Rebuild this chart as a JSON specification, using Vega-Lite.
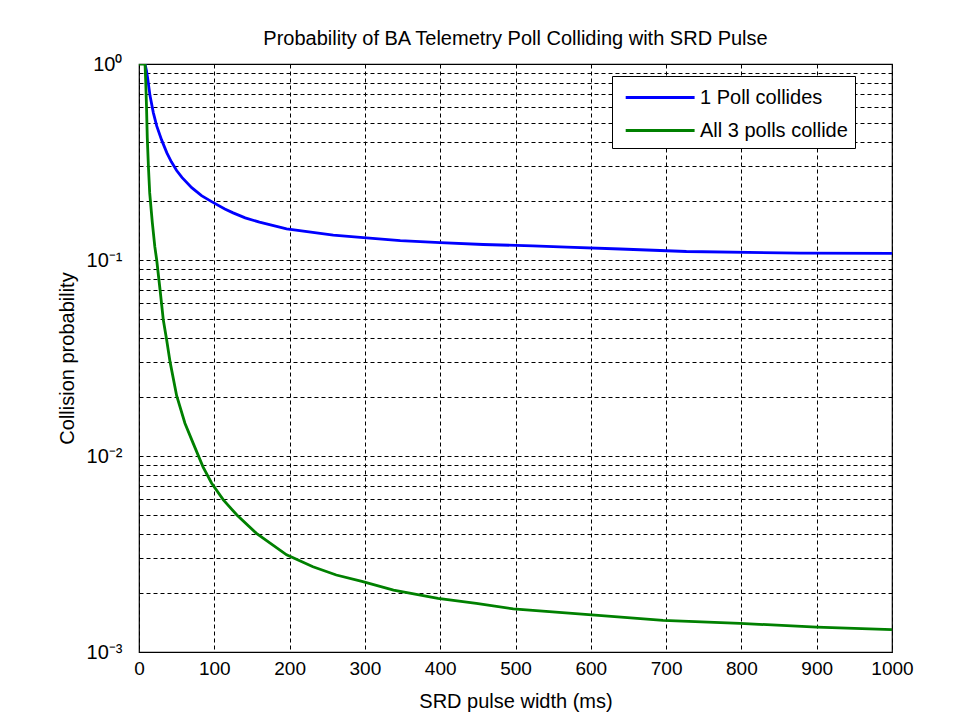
{
  "$schema": "https://vega.github.io/schema/vega-lite/v6.json",
  "width": 753,
  "height": 588,
  "autosize": "none",
  "padding": {"left": 139, "top": 64, "right": 83, "bottom": 74},
  "background": "white",
  "title": {
    "text": "Probability of BA Telemetry Poll Colliding with SRD Pulse",
    "fontSize": 20,
    "font": "Liberation Sans",
    "fontWeight": "normal",
    "color": "black",
    "offset": 5,
    "anchor": "middle"
  },
  "data": {
    "values": [
      {"series": "1 Poll collides", "w": 8, "p": 1},
      {"series": "1 Poll collides", "w": 10, "p": 0.92},
      {"series": "1 Poll collides", "w": 11.5, "p": 0.845},
      {"series": "1 Poll collides", "w": 14.6, "p": 0.69},
      {"series": "1 Poll collides", "w": 19, "p": 0.565},
      {"series": "1 Poll collides", "w": 23.5, "p": 0.483},
      {"series": "1 Poll collides", "w": 30, "p": 0.41},
      {"series": "1 Poll collides", "w": 37, "p": 0.352},
      {"series": "1 Poll collides", "w": 43, "p": 0.317},
      {"series": "1 Poll collides", "w": 50, "p": 0.286},
      {"series": "1 Poll collides", "w": 57, "p": 0.264},
      {"series": "1 Poll collides", "w": 70, "p": 0.234},
      {"series": "1 Poll collides", "w": 83, "p": 0.213},
      {"series": "1 Poll collides", "w": 97, "p": 0.198},
      {"series": "1 Poll collides", "w": 114, "p": 0.182},
      {"series": "1 Poll collides", "w": 125, "p": 0.174},
      {"series": "1 Poll collides", "w": 141, "p": 0.164},
      {"series": "1 Poll collides", "w": 160, "p": 0.156},
      {"series": "1 Poll collides", "w": 196, "p": 0.144},
      {"series": "1 Poll collides", "w": 258, "p": 0.134},
      {"series": "1 Poll collides", "w": 298, "p": 0.13},
      {"series": "1 Poll collides", "w": 347, "p": 0.1255},
      {"series": "1 Poll collides", "w": 400, "p": 0.1226},
      {"series": "1 Poll collides", "w": 457, "p": 0.12},
      {"series": "1 Poll collides", "w": 523, "p": 0.118},
      {"series": "1 Poll collides", "w": 568, "p": 0.1162},
      {"series": "1 Poll collides", "w": 639, "p": 0.1138},
      {"series": "1 Poll collides", "w": 727, "p": 0.1105},
      {"series": "1 Poll collides", "w": 878, "p": 0.1085},
      {"series": "1 Poll collides", "w": 1000, "p": 0.108},
      {"series": "All 3 polls collide", "w": 0, "p": 1},
      {"series": "All 3 polls collide", "w": 8, "p": 1},
      {"series": "All 3 polls collide", "w": 9, "p": 0.8},
      {"series": "All 3 polls collide", "w": 10, "p": 0.6},
      {"series": "All 3 polls collide", "w": 11, "p": 0.42},
      {"series": "All 3 polls collide", "w": 12.5, "p": 0.3},
      {"series": "All 3 polls collide", "w": 14.2, "p": 0.22},
      {"series": "All 3 polls collide", "w": 17.7, "p": 0.155},
      {"series": "All 3 polls collide", "w": 21, "p": 0.117},
      {"series": "All 3 polls collide", "w": 23.5, "p": 0.1},
      {"series": "All 3 polls collide", "w": 28, "p": 0.0703},
      {"series": "All 3 polls collide", "w": 32.3, "p": 0.0494},
      {"series": "All 3 polls collide", "w": 36.8, "p": 0.039},
      {"series": "All 3 polls collide", "w": 41.2, "p": 0.0303},
      {"series": "All 3 polls collide", "w": 50, "p": 0.0203},
      {"series": "All 3 polls collide", "w": 61, "p": 0.0147},
      {"series": "All 3 polls collide", "w": 72, "p": 0.0116},
      {"series": "All 3 polls collide", "w": 85, "p": 0.0088},
      {"series": "All 3 polls collide", "w": 96.5, "p": 0.00726},
      {"series": "All 3 polls collide", "w": 112, "p": 0.00597},
      {"series": "All 3 polls collide", "w": 130, "p": 0.005},
      {"series": "All 3 polls collide", "w": 156, "p": 0.00403},
      {"series": "All 3 polls collide", "w": 196, "p": 0.00313},
      {"series": "All 3 polls collide", "w": 231, "p": 0.00272},
      {"series": "All 3 polls collide", "w": 262, "p": 0.00247},
      {"series": "All 3 polls collide", "w": 296, "p": 0.00229},
      {"series": "All 3 polls collide", "w": 338, "p": 0.00207},
      {"series": "All 3 polls collide", "w": 397, "p": 0.00188},
      {"series": "All 3 polls collide", "w": 448, "p": 0.00177},
      {"series": "All 3 polls collide", "w": 497, "p": 0.00166},
      {"series": "All 3 polls collide", "w": 597, "p": 0.00155},
      {"series": "All 3 polls collide", "w": 696, "p": 0.00145},
      {"series": "All 3 polls collide", "w": 798, "p": 0.0014},
      {"series": "All 3 polls collide", "w": 900, "p": 0.00134},
      {"series": "All 3 polls collide", "w": 1000, "p": 0.0013}
    ]
  },
  "mark": {"type": "line", "strokeWidth": 2.8, "clip": true},
  "encoding": {
    "x": {
      "field": "w",
      "type": "quantitative",
      "scale": {"domain": [0, 1000], "nice": false, "zero": false},
      "axis": {
        "title": "SRD pulse width (ms)",
        "values": [0, 100, 200, 300, 400, 500, 600, 700, 800, 900, 1000],
        "format": "d",
        "labelPadding": 7,
        "titlePadding": 13
      }
    },
    "y": {
      "field": "p",
      "type": "quantitative",
      "scale": {"type": "log", "domain": [0.001, 1], "nice": false},
      "axis": {
        "title": "Collision probability",
        "values": [0.001, 0.002, 0.003, 0.004, 0.005, 0.006, 0.007, 0.008, 0.009, 0.01, 0.02, 0.03, 0.04, 0.05, 0.06, 0.07, 0.08, 0.09, 0.1, 0.2, 0.3, 0.4, 0.5, 0.6, 0.7, 0.8, 0.9, 1],
        "labelExpr": "datum.value == 1 ? '10⁰' : datum.value == 0.1 ? '10⁻¹' : datum.value == 0.01 ? '10⁻²' : datum.value == 0.001 ? '10⁻³' : ''",
        "labelOverlap": false,
        "labelPadding": 17,
        "labelFontSize": 20,
        "titlePadding": 9
      }
    },
    "color": {
      "field": "series",
      "type": "nominal",
      "scale": {"domain": ["1 Poll collides", "All 3 polls collide"], "range": ["#0000ff", "#008000"]},
      "legend": {
        "orient": "none",
        "legendX": 473,
        "legendY": 12,
        "title": null,
        "symbolType": "M-0.6,0H4.7",
        "symbolSize": 676,
        "symbolStrokeWidth": 3,
        "labelFontSize": 20,
        "labelFont": "Liberation Sans",
        "labelColor": "black",
        "labelOffset": 52,
        "fillColor": "white",
        "strokeColor": "black",
        "padding": 7,
        "rowPadding": 8
      }
    }
  },
  "config": {
    "view": {"stroke": "black", "strokeWidth": 1.2},
    "axis": {
      "grid": true,
      "gridColor": "black",
      "gridDash": [4, 3],
      "gridOpacity": 1,
      "gridWidth": 1,
      "domain": false,
      "ticks": false,
      "labelFont": "Liberation Sans",
      "labelFontSize": 19,
      "labelColor": "black",
      "labelFlush": false,
      "titleFont": "Liberation Sans",
      "titleFontSize": 20,
      "titleFontWeight": "normal",
      "titleColor": "black"
    }
  }
}
